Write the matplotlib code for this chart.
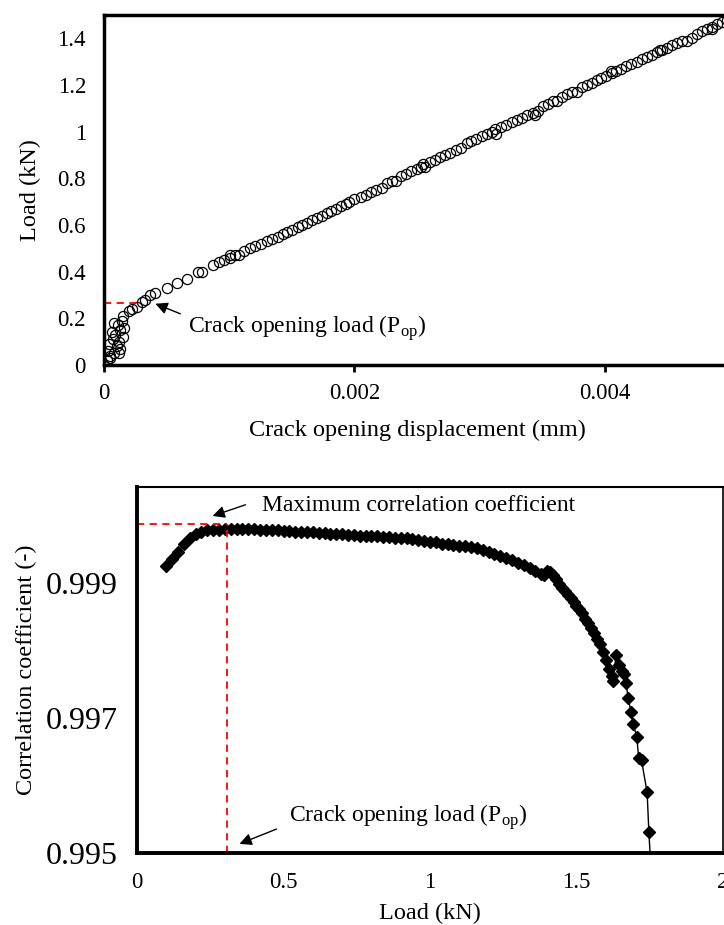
import numpy as np
import matplotlib
matplotlib.use("Agg")
import matplotlib.pyplot as plt

plt.rcParams["font.family"] = ["Liberation Serif", "DejaVu Serif"]
plt.rcParams["mathtext.fontset"] = "custom"
plt.rcParams["mathtext.rm"] = "Liberation Serif"
plt.rcParams["font.size"] = 16.5

# ---------------------------------------------------------------- data (top)
# crack opening displacement in micrometres (= 1e-3 mm), load in kN
cod_um = [
    0.00, 0.02, 0.05, 0.03, 0.08, 0.10, 0.04, 0.07, 0.12, 0.09,
    0.06, 0.13, 0.15, 0.11, 0.08, 0.14, 0.16, 0.05, 0.13, 0.12,
    0.15, 0.20, 0.22, 0.26, 0.30, 0.33, 0.37, 0.41, 0.50, 0.58,
    0.66, 0.75, 0.78, 0.87, 0.92, 0.96, 1.01, 1.01, 1.05, 1.08,
    1.12, 1.17, 1.21, 1.25, 1.30, 1.34, 1.39, 1.43, 1.46, 1.50,
    1.55, 1.58, 1.62, 1.66, 1.70, 1.74, 1.78, 1.81, 1.85, 1.89,
    1.93, 1.96, 2.00, 2.05, 2.09, 2.13, 2.17, 2.22, 2.26, 2.30,
    2.33, 2.37, 2.41, 2.45, 2.50, 2.53, 2.55, 2.56, 2.60, 2.64,
    2.68, 2.72, 2.76, 2.81, 2.85, 2.90, 2.93, 2.97, 3.02, 3.06,
    3.10, 3.12, 3.13, 3.17, 3.21, 3.26, 3.30, 3.34, 3.38, 3.43,
    3.44, 3.47, 3.51, 3.55, 3.59, 3.62, 3.66, 3.70, 3.74, 3.78,
    3.82, 3.86, 3.90, 3.94, 3.97, 4.01, 4.05, 4.06, 4.09, 4.13,
    4.17, 4.21, 4.26, 4.30, 4.34, 4.38, 4.42, 4.44, 4.46, 4.50,
    4.54, 4.58, 4.62, 4.66, 4.70, 4.74, 4.78, 4.82, 4.86, 4.86,
    4.90, 4.94, 4.98,
]
load_top = [
    0.00, 0.02, 0.04, 0.06, 0.05, 0.08, 0.09, 0.11, 0.10, 0.13,
    0.14, 0.15, 0.12, 0.17, 0.18, 0.19, 0.16, 0.03, 0.07, 0.05,
    0.21, 0.23, 0.24, 0.25, 0.27, 0.28, 0.30, 0.31, 0.33, 0.35,
    0.37, 0.40, 0.40, 0.43, 0.44, 0.45, 0.46, 0.47, 0.47, 0.47,
    0.49, 0.50, 0.51, 0.52, 0.53, 0.54, 0.55, 0.56, 0.57, 0.58,
    0.59, 0.60, 0.61, 0.62, 0.63, 0.64, 0.65, 0.66, 0.67, 0.68,
    0.69, 0.70, 0.71, 0.72, 0.73, 0.74, 0.75, 0.76, 0.78, 0.79,
    0.79, 0.81, 0.82, 0.83, 0.84, 0.85, 0.86, 0.85, 0.87, 0.88,
    0.89, 0.90, 0.91, 0.92, 0.93, 0.95, 0.96, 0.97, 0.98, 0.99,
    1.00, 1.01, 0.99, 1.02, 1.03, 1.04, 1.05, 1.06, 1.07, 1.08,
    1.07, 1.09, 1.11, 1.12, 1.13, 1.13, 1.15, 1.16, 1.17, 1.17,
    1.19, 1.20, 1.21, 1.22, 1.23, 1.24, 1.26, 1.25, 1.26, 1.27,
    1.28, 1.29, 1.30, 1.31, 1.32, 1.33, 1.34, 1.35, 1.35, 1.36,
    1.37, 1.38, 1.39, 1.39, 1.40, 1.42, 1.43, 1.44, 1.45, 1.44,
    1.46, 1.47, 1.48,
]
top_xticks = [0, 0.002, 0.004]
top_xlabels = ["0", "0.002", "0.004"]
top_yticks = [0, 0.2, 0.4, 0.6, 0.8, 1.0, 1.2, 1.4]
top_ylabels = ["0", "0.2", "0.4", "0.6", "0.8", "1", "1.2", "1.4"]
pop_top = 0.267       # kN, dashed level
pop_top_cod = 0.00027

# ---------------------------------------------------------------- data (bottom)
load_bot = [
    0.10, 0.12, 0.14, 0.16, 0.18, 0.20, 0.22, 0.24, 0.26, 0.28,
    0.30, 0.32, 0.34, 0.36, 0.38, 0.40, 0.42, 0.44, 0.46, 0.48,
    0.50, 0.52, 0.54, 0.56, 0.58, 0.60, 0.62, 0.64, 0.66, 0.68,
    0.70, 0.72, 0.74, 0.76, 0.78, 0.80, 0.82, 0.84, 0.86, 0.88,
    0.90, 0.92, 0.94, 0.96, 0.98, 1.00, 1.02, 1.04, 1.06, 1.08,
    1.10, 1.12, 1.14, 1.16, 1.18, 1.20, 1.22, 1.24, 1.26, 1.28,
    1.30, 1.32, 1.34, 1.36, 1.38, 1.39, 1.40, 1.41, 1.42, 1.43,
    1.44, 1.45, 1.46, 1.47, 1.48, 1.49, 1.50, 1.51, 1.52, 1.53,
    1.54, 1.55, 1.56, 1.57, 1.58, 1.59, 1.60, 1.61, 1.62, 1.625,
    1.635, 1.645, 1.655, 1.662, 1.669, 1.676, 1.686, 1.693, 1.706, 1.712,
    1.722, 1.741, 1.747, 1.755,
]
corr = [
    0.99925, 0.99935, 0.99946, 0.99957, 0.99966, 0.99972, 0.99976, 0.99978, 0.99979, 0.99979,
    0.99980, 0.99980, 0.99980, 0.99980, 0.99980, 0.99980, 0.99979, 0.99979, 0.99978, 0.99978,
    0.99977, 0.99977, 0.99976, 0.99976, 0.99975, 0.99975, 0.99974, 0.99974, 0.99973, 0.99973,
    0.99972, 0.99971, 0.99971, 0.99970, 0.99970, 0.99969, 0.99969, 0.99968, 0.99968, 0.99967,
    0.99967, 0.99966, 0.99965, 0.99963, 0.99962, 0.99961, 0.99960, 0.99958, 0.99957, 0.99956,
    0.99955, 0.99954, 0.99953, 0.99951, 0.99949, 0.99946, 0.99943, 0.99940, 0.99937, 0.99934,
    0.99930, 0.99926, 0.99922, 0.99918, 0.99913, 0.99912, 0.99918, 0.99916, 0.99912, 0.99906,
    0.99899, 0.99893, 0.99888, 0.99882, 0.99877, 0.99872, 0.99866, 0.99861, 0.99855, 0.99847,
    0.99841, 0.99833, 0.99826, 0.99817, 0.99810, 0.99798, 0.99786, 0.99772, 0.99762, 0.99754,
    0.99793, 0.99779, 0.99770, 0.99765, 0.99752, 0.99730, 0.99709, 0.99691, 0.99672, 0.99641,
    0.99637, 0.99590, 0.99531, 0.99470,
]
bot_xticks = [0, 0.5, 1, 1.5, 2]
bot_xlabels = ["0", "0.5", "1", "1.5", "2"]
bot_yticks = [0.995, 0.997, 0.999]
bot_ylabels = ["0.995", "0.997", "0.999"]
max_corr_line = 0.99987
pop_bot = 0.307

# ---------------------------------------------------------------- figure
fig = plt.figure(figsize=(7.24, 9.25), dpi=100)
W, H = 724.0, 925.0
DASH = (0, (4, 3))

# top panel (right edge lies just outside the crop)
ax1 = fig.add_axes([104 / W, (H - 365) / H, 626 / W, 350 / H])
ax1.plot(np.array(cod_um) * 1e-3, load_top, ls="none", marker="o", ms=7.3,
         mfc="none", mec="black", mew=0.9)
ax1.plot([0, pop_top_cod], [pop_top, pop_top], color="red", ls=DASH, lw=1.3)
ax1.set_xlim(0, 0.005)
ax1.set_ylim(0, 1.5)
ax1.set_xticks(top_xticks, top_xlabels)
ax1.set_yticks(top_yticks, top_ylabels)
ax1.tick_params(axis="x", direction="out", length=5, width=2, pad=8)
ax1.tick_params(axis="y", length=0, pad=13)
for s in ax1.spines.values():
    s.set_linewidth(2.5)
ax1.set_xlabel("Crack opening displacement (mm)", fontsize=17.5, labelpad=11)
ax1.set_ylabel("Load (kN)", fontsize=17.5, labelpad=12)
ax1.annotate("", xy=(0.00039, 0.267), xytext=(0.00063, 0.215),
             arrowprops=dict(arrowstyle="-|>", color="black", lw=1,
                             mutation_scale=18))
ax1.text(0.00067, 0.159, r"Crack opening load (P$_{\mathregular{op}}$)",
         ha="left", va="center", fontsize=17)

# bottom panel
ax2 = fig.add_axes([137 / W, (H - 853) / H, 586 / W, 366 / H])
ax2.plot(load_bot, corr, color="black", lw=1, marker="D", ms=6,
         mfc="black", mec="black")
ax2.plot([0, pop_bot], [max_corr_line, max_corr_line], color="red",
         ls=DASH, lw=1.3)
ax2.plot([pop_bot, pop_bot], [0.995, max_corr_line], color="red",
         ls=DASH, lw=1.3)
ax2.set_xlim(0, 2)
ax2.set_ylim(0.995, 1.00042)
ax2.set_xticks(bot_xticks, bot_xlabels)
ax2.set_yticks(bot_yticks, bot_ylabels)
ax2.tick_params(axis="x", length=0, pad=14)
ax2.tick_params(axis="y", length=0, pad=14, labelsize=23)
ax2.spines["left"].set_linewidth(2.8)
ax2.spines["bottom"].set_linewidth(2.8)
ax2.spines["top"].set_linewidth(1.5)
ax2.spines["right"].set_linewidth(1.2)
ax2.set_xlabel("Load (kN)", fontsize=17.5, labelpad=7)
ax2.set_ylabel("Correlation coefficient (-)", fontsize=17.5, labelpad=6)
ax2.annotate("", xy=(0.249, 0.999978), xytext=(0.379, 1.00017),
             arrowprops=dict(arrowstyle="-|>", color="black", lw=1,
                             mutation_scale=18))
ax2.text(0.427, 1.000141, "Maximum correlation coefficient", ha="left",
         va="center", fontsize=17)
ax2.annotate("", xy=(0.341, 0.99512), xytext=(0.485, 0.99537),
             arrowprops=dict(arrowstyle="-|>", color="black", lw=1,
                             mutation_scale=18))
ax2.text(0.519, 0.99553, r"Crack opening load (P$_{\mathregular{op}}$)",
         ha="left", va="center", fontsize=17)

fig.savefig("out.png", dpi=100)
